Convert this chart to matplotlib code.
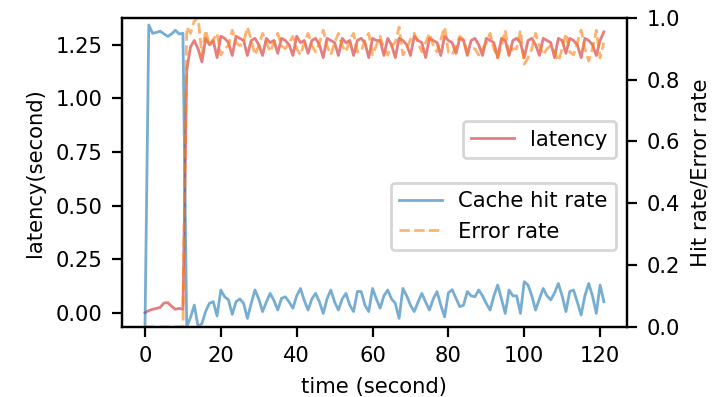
import numpy as np
import matplotlib.pyplot as plt

# time axis, one sample per second
time = np.arange(122)

latency = [0.0, 0.01, 0.016, 0.02, 0.025, 0.045, 0.047, 0.03, 0.016, 0.02, 0.016,
           1.13, 1.24, 1.27, 1.23, 1.17, 1.28, 1.25, 1.27, 1.19, 1.29,
           1.28, 1.26, 1.20, 1.29, 1.28, 1.27, 1.20, 1.27, 1.28, 1.25,
           1.20, 1.28, 1.26, 1.27, 1.21, 1.28, 1.27, 1.25, 1.20, 1.29,
           1.26, 1.27, 1.21, 1.27, 1.28, 1.25, 1.19, 1.28, 1.27, 1.26,
           1.20, 1.28, 1.26, 1.27, 1.20, 1.27, 1.28, 1.26, 1.19, 1.28,
           1.27, 1.27, 1.20, 1.28, 1.25, 1.19, 1.28, 1.27, 1.25, 1.20,
           1.29, 1.27, 1.26, 1.19, 1.28, 1.27, 1.26, 1.20, 1.29, 1.27,
           1.26, 1.21, 1.28, 1.27, 1.20, 1.27, 1.28, 1.25, 1.20, 1.28,
           1.27, 1.26, 1.19, 1.28, 1.27, 1.20, 1.27, 1.28, 1.26, 1.19,
           1.27, 1.28, 1.25, 1.20, 1.28, 1.27, 1.26, 1.19, 1.28, 1.27,
           1.21, 1.28, 1.27, 1.25, 1.19, 1.28, 1.27, 1.25, 1.20, 1.27,
           1.31]

hit_rate = [0.0, 0.977, 0.950, 0.953, 0.957, 0.948, 0.940, 0.948, 0.960, 0.948, 0.950,
            0.0, 0.03, 0.07, 0.0, 0.01, 0.05, 0.076, 0.081, 0.035, 0.119,
            0.097, 0.087, 0.040, 0.081, 0.090, 0.076, 0.027, 0.075, 0.119, 0.09,
            0.049, 0.08, 0.108, 0.085, 0.054, 0.092, 0.097, 0.08, 0.060, 0.10,
            0.124, 0.085, 0.054, 0.09, 0.108, 0.08, 0.043, 0.09, 0.119, 0.08,
            0.054, 0.09, 0.108, 0.07, 0.049, 0.114, 0.114, 0.07, 0.049, 0.124,
            0.09, 0.06, 0.10, 0.119, 0.09, 0.076, 0.027, 0.124, 0.10, 0.07,
            0.049, 0.08, 0.108, 0.08, 0.054, 0.09, 0.114, 0.07, 0.032, 0.11,
            0.12, 0.092, 0.065, 0.07, 0.114, 0.10, 0.097, 0.119, 0.10, 0.075,
            0.054, 0.10, 0.135, 0.09, 0.043, 0.119, 0.10, 0.10, 0.043, 0.146,
            0.135, 0.10, 0.054, 0.09, 0.124, 0.10, 0.087, 0.11, 0.14, 0.10,
            0.049, 0.114, 0.119, 0.08, 0.038, 0.10, 0.14, 0.10, 0.043, 0.135,
            0.081]

error_rate = [0.0] * 11 + [
              0.97, 0.95, 0.99, 1.0, 0.88, 0.96, 0.91, 0.93, 0.95, 0.88,
              0.90, 0.91, 0.96, 0.92, 0.91, 0.92, 0.97, 0.93, 0.88, 0.91,
              0.95, 0.92, 0.89, 0.92, 0.95, 0.91, 0.90, 0.92, 0.94, 0.90,
              0.88, 0.92, 0.95, 0.91, 0.89, 0.92, 0.96, 0.91, 0.88, 0.92,
              0.95, 0.91, 0.89, 0.93, 0.95, 0.89, 0.89, 0.93, 0.95, 0.88,
              0.91, 0.94, 0.90, 0.88, 0.91, 0.92, 0.97, 0.88, 0.90, 0.93,
              0.95, 0.92, 0.89, 0.92, 0.95, 0.91, 0.89, 0.93, 0.97, 0.89,
              0.88, 0.91, 0.94, 0.93, 0.89, 0.90, 0.90, 0.88, 0.90, 0.92,
              0.95, 0.90, 0.87, 0.91, 0.96, 0.88, 0.90, 0.90, 0.96, 0.85,
              0.87, 0.90, 0.95, 0.91, 0.88, 0.90, 0.91, 0.89, 0.86, 0.90,
              0.95, 0.89, 0.88, 0.92, 0.96, 0.90, 0.86, 0.90, 0.96, 0.87,
              0.92]

plt.rcParams['font.size'] = 7.6

fig = plt.figure(figsize=(3.59, 1.985), dpi=200)
ax1 = fig.add_axes([0.170, 0.177, 0.703, 0.778])
ax2 = ax1.twinx()

l1, = ax1.plot(time, latency, color='tab:red', alpha=0.6, lw=1.0, label='latency')
l2, = ax2.plot(time, hit_rate, color='tab:blue', alpha=0.6, lw=1.0, label='Cache hit rate')
l3, = ax2.plot(time, error_rate, color='tab:orange', alpha=0.6, lw=1.0, ls='--', label='Error rate')

ax1.set_xlabel('time (second)')
ax1.set_ylabel('latency(second)')
ax2.set_ylabel('Hit rate/Error rate')
ax2.set_ylim(0, 1)

ax1.legend(loc='upper right', bbox_to_anchor=(1, 0.70))
ax2.legend(loc='upper right', bbox_to_anchor=(1, 0.50))

fig.savefig('out.png', dpi=200)
